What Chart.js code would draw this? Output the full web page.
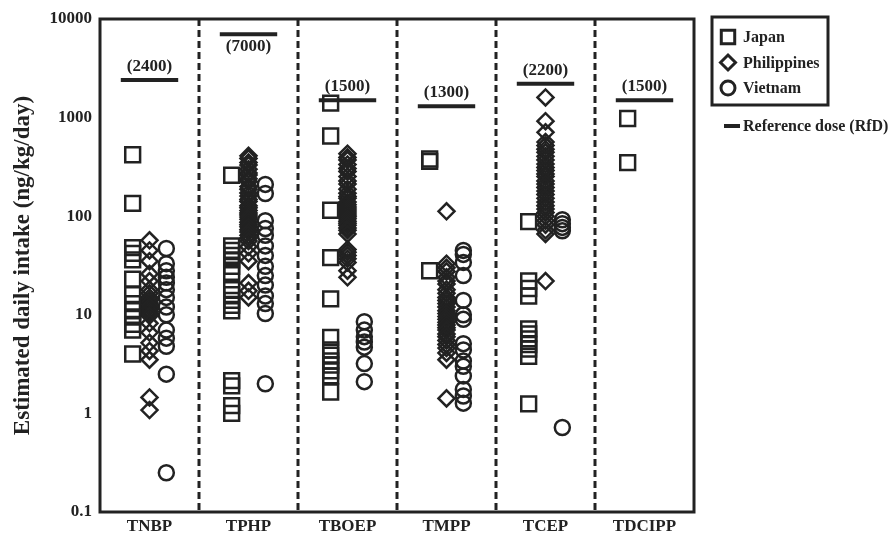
<!DOCTYPE html>
<html>
<head>
<meta charset="utf-8">
<title>Estimated daily intake of PFRs</title>
<script src="https://cdn.jsdelivr.net/npm/chart.js@4/dist/chart.umd.min.js"></script>
<style>
  html, body { margin: 0; padding: 0; background: #fff; }
  canvas { display: block; }
</style>
</head>
<body>
<canvas id="c" width="891" height="536"></canvas>
<script>
// Compounds along the x axis
const categories = ['TNBP', 'TPHP', 'TBOEP', 'TMPP', 'TCEP', 'TDCIPP'];

// Log axis ticks
const yTickValues = [0.1, 1, 10, 100, 1000, 10000];
const yTickLabels = ['0.1', '1', '10', '100', '1000', '10000'];

// Reference dose (RfD) for each compound, ng/kg/day
const referenceDose = [2400, 7000, 1500, 1300, 2200, 1500];

// Estimated daily intake per individual sample (ng/kg/day), one list per compound
const japan = [
  [420, 135, 48, 42, 36, 23, 16, 13, 11, 9.5, 8, 7, 4],
  [260, 50, 45, 40, 36, 31, 27, 18, 16, 14, 12.5, 11, 2.15, 1.9, 1.2, 1.0],
  [1400, 650, 115, 38, 14.5, 5.9, 4.4, 3.9, 3.4, 3.1, 2.7, 2.4, 1.65],
  [380, 360, 28],
  [88, 22, 18.5, 15.5, 7.2, 6.4, 5.7, 5.0, 4.5, 3.8, 1.25],
  [980, 350]
];

const philippines = [
  [57, 45, 35, 26, 22, 18, 16.5, 15, 14, 13.2, 12.4, 12, 11.3, 10.8, 10.2, 9.8, 8.2, 6.6, 5.2, 4.3, 3.5, 1.45, 1.08],
  [410, 385, 350, 330, 300, 275, 262, 240, 225, 200, 188, 172, 160, 148, 141, 128, 122, 114, 108, 103, 98, 93, 87, 82, 78, 73, 69, 64, 60, 56, 49, 42, 35, 21, 17.5, 15],
  [430, 395, 372, 335, 305, 284, 252, 228, 212, 188, 171, 158, 152, 139, 131, 124, 118, 113, 108, 103, 99, 94, 89, 85, 81, 76, 72, 66, 46, 43, 40, 37, 34, 28, 24],
  [112, 33, 30, 27.5, 24, 22, 20.5, 18, 16.5, 15, 14, 13, 12, 11, 10.3, 9.6, 9, 8.4, 7.9, 7.4, 7, 6.4, 6, 5.5, 5, 4.6, 4.1, 3.5, 1.42],
  [1600, 920, 710, 565, 520, 478, 445, 405, 372, 338, 312, 290, 268, 252, 228, 212, 196, 180, 166, 152, 139, 128, 118, 109, 100, 90, 82, 72, 66, 22],
  []
];

const vietnam = [
  [47, 33, 28, 24, 21, 18, 15, 12, 10, 7, 5.8, 4.8, 2.5, 0.25],
  [210, 170, 90, 75, 64, 50, 40, 31, 25, 20, 15.5, 13, 10.3, 2.0],
  [8.5, 7, 6, 5.3, 4.7, 3.2, 2.1],
  [45, 41, 34, 25, 14, 10, 9, 5.1, 4.4, 3.4, 3, 2.4, 1.75, 1.5, 1.27],
  [92, 84, 77, 71, 0.72],
  []
];

const INK = '#222';
const SERIF = '"Liberation Serif", "Times New Roman", serif';

// Each country sits at a small horizontal shift within its compound column
function toPoints(groups, shift) {
  const out = [];
  groups.forEach((vals, i) => vals.forEach(v => out.push({ x: i + shift, y: v })));
  return out;
}

const markerBase = {
  type: 'scatter',
  borderColor: INK,
  backgroundColor: 'rgba(0,0,0,0)',
  borderWidth: 2.5,
  pointHoverRadius: 0
};

const countrySeries = [
  { label: 'Japan', data: toPoints(japan, -0.17), pointStyle: 'rect', pointRadius: 10.5 },
  { label: 'Philippines', data: toPoints(philippines, 0), pointStyle: 'rectRot', pointRadius: 8 },
  { label: 'Vietnam', data: toPoints(vietnam, 0.17), pointStyle: 'circle', pointRadius: 7.5 }
].map(d => Object.assign({}, markerBase, d));

// RfD bars: one short horizontal segment per compound
const doseSeries = referenceDose.map((v, i) => ({
  type: 'line',
  label: 'RfD ' + categories[i],
  data: [{ x: i - 0.29, y: v }, { x: i + 0.29, y: v }],
  showLine: true,
  borderColor: INK,
  borderWidth: 4,
  borderCapStyle: 'butt',
  pointRadius: 0,
  pointHoverRadius: 0
}));

function drawMarker(ctx, style, radius, x, y, lw) {
  ctx.save();
  ctx.strokeStyle = INK;
  ctx.fillStyle = '#fff';
  ctx.lineWidth = lw;
  if (Chart.helpers && Chart.helpers.drawPoint) {
    Chart.helpers.drawPoint(ctx, { pointStyle: style, radius: radius, rotation: 0, borderWidth: lw }, x, y);
  }
  ctx.restore();
}

const decorations = {
  id: 'decorations',
  beforeDatasetsDraw(chart) {
    const { ctx, chartArea: a, scales: { x } } = chart;
    ctx.save();
    ctx.strokeStyle = INK;
    ctx.lineWidth = 3;
    ctx.setLineDash([7, 4]);
    for (let i = 0; i < categories.length - 1; i++) {
      const px = x.getPixelForValue(i + 0.5);
      ctx.beginPath();
      ctx.moveTo(px, a.top);
      ctx.lineTo(px, a.bottom);
      ctx.stroke();
    }
    ctx.restore();
  },
  afterDatasetsDraw(chart) {
    const { ctx, chartArea: a, scales: { x, y } } = chart;
    ctx.save();
    // plot frame
    ctx.strokeStyle = INK;
    ctx.lineWidth = 3;
    ctx.setLineDash([]);
    ctx.strokeRect(a.left, a.top, a.right - a.left, a.bottom - a.top);

    // RfD value labels: above the bar, or just below it when the frame leaves no room
    ctx.fillStyle = INK;
    ctx.font = 'bold 17px ' + SERIF;
    ctx.textAlign = 'center';
    referenceDose.forEach((v, i) => {
      const py = y.getPixelForValue(v);
      if (py - 24 > a.top) {
        ctx.textBaseline = 'bottom';
        ctx.fillText('(' + v + ')', x.getPixelForValue(i), py - 5);
      } else {
        ctx.textBaseline = 'top';
        ctx.fillText('(' + v + ')', x.getPixelForValue(i), py + 4);
      }
    });

    // legend box
    const lx = a.right + 18, ly = 17, lw = 116, lh = 88;
    ctx.lineWidth = 3;
    ctx.strokeRect(lx, ly, lw, lh);
    const entries = [
      ['Japan', 'rect', 9.5],
      ['Philippines', 'rectRot', 7.5],
      ['Vietnam', 'circle', 7]
    ];
    ctx.font = 'bold 16px ' + SERIF;
    ctx.textAlign = 'left';
    ctx.textBaseline = 'middle';
    entries.forEach((e, k) => {
      const cy = ly + 20 + k * 25.5;
      drawMarker(ctx, e[1], e[2], lx + 16, cy, 3);
      ctx.fillStyle = INK;
      ctx.fillText(e[0], lx + 31, cy + 1);
    });

    // RfD legend entry
    const ry = 126;
    ctx.strokeStyle = INK;
    ctx.lineWidth = 4;
    ctx.beginPath();
    ctx.moveTo(lx + 12, ry);
    ctx.lineTo(lx + 28, ry);
    ctx.stroke();
    ctx.fillStyle = INK;
    ctx.fillText('Reference dose (RfD)', lx + 31, ry + 1);
    ctx.restore();
  }
};

new Chart(document.getElementById('c'), {
  type: 'scatter',
  data: { datasets: [...countrySeries, ...doseSeries] },
  options: {
    responsive: false,
    devicePixelRatio: 1,
    animation: false,
    events: [],
    layout: { padding: { top: 19, right: 197, left: 0, bottom: 0 } },
    plugins: { legend: { display: false }, tooltip: { enabled: false } },
    scales: {
      x: {
        type: 'linear',
        min: -0.5,
        max: 5.5,
        afterBuildTicks: s => { s.ticks = categories.map((c, i) => ({ value: i })); },
        afterFit: s => { s.height = 24; },
        ticks: {
          callback: v => (categories[v] !== undefined ? categories[v] : ''),
          font: { family: SERIF, weight: 'bold', size: 17 },
          color: INK,
          padding: 4,
          autoSkip: false,
          maxRotation: 0
        },
        grid: { display: false, drawTicks: false },
        border: { display: false }
      },
      y: {
        type: 'logarithmic',
        min: 0.1,
        max: 10000,
        afterBuildTicks: s => { s.ticks = yTickValues.map(v => ({ value: v })); },
        afterFit: s => { s.width = 100; },
        ticks: {
          callback: v => { const k = yTickValues.indexOf(v); return k < 0 ? '' : yTickLabels[k]; },
          font: { family: SERIF, weight: 'bold', size: 17 },
          color: INK,
          padding: 8,
          autoSkip: false
        },
        grid: { display: false, drawTicks: false },
        border: { display: false },
        title: {
          display: true,
          text: 'Estimated daily intake (ng/kg/day)',
          font: { family: SERIF, weight: 'bold', size: 23 },
          color: INK,
          padding: { top: 9, bottom: 0 }
        }
      }
    }
  },
  plugins: [decorations]
});
</script>
</body>
</html>
